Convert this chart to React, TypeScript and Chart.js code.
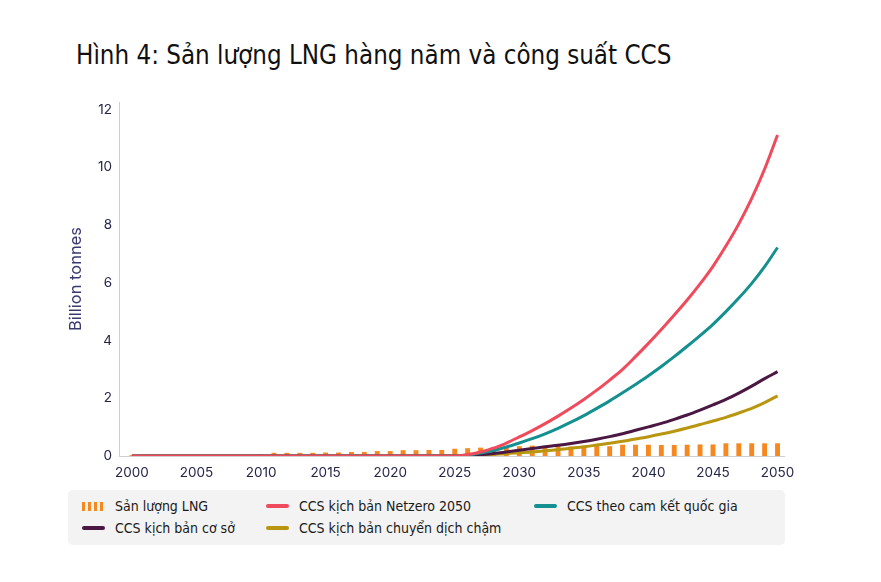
import React, { useEffect, useRef } from 'react';
import { Chart, registerables } from 'chart.js';

Chart.register(...registerables);

const years = [
  2000, 2001, 2002, 2003, 2004, 2005, 2006, 2007, 2008, 2009,
  2010, 2011, 2012, 2013, 2014, 2015, 2016, 2017, 2018, 2019,
  2020, 2021, 2022, 2023, 2024, 2025, 2026, 2027, 2028, 2029,
  2030, 2031, 2032, 2033, 2034, 2035, 2036, 2037, 2038, 2039,
  2040, 2041, 2042, 2043, 2044, 2045, 2046, 2047, 2048, 2049, 2050,
];

const xTickLabels = [2000, 2005, 2010, 2015, 2020, 2025, 2030, 2035, 2040, 2045, 2050];
const yTickLabels = [0, 2, 4, 6, 8, 10, 12];

const lngOutput = [
  0.03, 0.03, 0.03, 0.03, 0.04, 0.04, 0.04, 0.05, 0.05, 0.05,
  0.07, 0.11, 0.11, 0.11, 0.11, 0.12, 0.12, 0.14, 0.14, 0.17,
  0.17, 0.2, 0.2, 0.21, 0.21, 0.25, 0.27, 0.29, 0.3, 0.31,
  0.34, 0.36, 0.35, 0.35, 0.33, 0.34, 0.36, 0.34, 0.39, 0.39,
  0.39, 0.38, 0.38, 0.39, 0.4, 0.4, 0.44, 0.44, 0.44, 0.44, 0.44,
];

const ccsNetzero = [
  0, 0, 0, 0, 0, 0, 0, 0, 0, 0,
  0, 0, 0, 0, 0, 0, 0, 0, 0, 0,
  0, 0, 0, 0, 0, 0, 0.05, 0.14, 0.27, 0.45,
  0.66, 0.88, 1.12, 1.38, 1.66, 1.96, 2.28, 2.63, 3.0, 3.44,
  3.9, 4.38, 4.88, 5.4, 5.96, 6.57, 7.27, 8.04, 8.92, 9.94, 11.12,
];

const ccsNational = [
  0, 0, 0, 0, 0, 0, 0, 0, 0, 0,
  0, 0, 0, 0, 0, 0, 0, 0, 0, 0,
  0, 0, 0, 0, 0, 0, 0.03, 0.1, 0.19, 0.31,
  0.45, 0.6, 0.77, 0.96, 1.17, 1.4, 1.65, 1.91, 2.19, 2.48,
  2.78, 3.1, 3.44, 3.8, 4.17, 4.56, 5.0, 5.47, 5.98, 6.56, 7.22,
];

const ccsBase = [
  0, 0, 0, 0, 0, 0, 0, 0, 0, 0,
  0, 0, 0, 0, 0, 0, 0, 0, 0, 0,
  0, 0, 0, 0, 0, 0, 0.01, 0.04, 0.09, 0.14,
  0.2, 0.26, 0.32, 0.37, 0.43, 0.5, 0.58, 0.67, 0.77, 0.89,
  1.01, 1.13, 1.27, 1.42, 1.59, 1.77, 1.96, 2.18, 2.42, 2.68, 2.92,
];

const ccsSlow = [
  0, 0, 0, 0, 0, 0, 0, 0, 0, 0,
  0, 0, 0, 0, 0, 0, 0, 0, 0, 0,
  0, 0, 0, 0, 0, 0, 0.01, 0.03, 0.06, 0.08,
  0.11, 0.14, 0.18, 0.22, 0.27, 0.32, 0.38, 0.44, 0.51, 0.59,
  0.67, 0.76, 0.86, 0.97, 1.09, 1.21, 1.34, 1.49, 1.65, 1.85, 2.08,
];

const ORANGE = '#f5881f';
const RED = '#ef4b5c';
const TEAL = '#13908f';
const PURPLE = '#4a1843';
const OLIVE = '#b8960f';
const AXIS_TEXT = '#25254a';

const FONT = '"DejaVu Sans Condensed", "DejaVu Sans", sans-serif';

const pts = (vals: number[]) => years.map((x, i) => ({ x, y: vals[i] }));

function LineIcon({ color }: { color: string }) {
  return (
    <span
      style={{
        display: 'inline-block',
        width: 23,
        height: 4,
        borderRadius: 2,
        background: color,
      }}
    />
  );
}

function BarIcon() {
  return (
    <span style={{ display: 'inline-flex', gap: 3, alignItems: 'flex-end', width: 23 }}>
      {[0, 1, 2, 3].map((k) => (
        <span key={k} style={{ display: 'inline-block', width: 3, height: 9, background: ORANGE }} />
      ))}
    </span>
  );
}

function LegendItem({ x, y, icon, text }: { x: number; y: number; icon: React.ReactNode; text: string }) {
  return (
    <div
      style={{
        position: 'absolute',
        left: x,
        top: y - 9,
        height: 18,
        display: 'flex',
        alignItems: 'center',
        gap: 10,
        fontFamily: FONT,
        fontSize: 14,
        color: '#1a1a1a',
        whiteSpace: 'nowrap',
      }}
    >
      {icon}
      <span>{text}</span>
    </div>
  );
}

export default function App() {
  const canvasRef = useRef<HTMLCanvasElement | null>(null);

  useEffect(() => {
    if (!canvasRef.current) return;
    const lineDs = (label: string, vals: number[], color: string, order: number) => ({
      type: 'line',
      label,
      data: pts(vals),
      borderColor: color,
      backgroundColor: color,
      borderWidth: 3,
      pointRadius: 0,
      cubicInterpolationMode: 'monotone',
      order,
    });
    const chart = new Chart(canvasRef.current, {
      type: 'bar',
      data: {
        datasets: [
          lineDs('CCS kịch bản Netzero 2050', ccsNetzero, RED, 1),
          lineDs('CCS theo cam kết quốc gia', ccsNational, TEAL, 2),
          lineDs('CCS kịch bản cơ sở', ccsBase, PURPLE, 3),
          lineDs('CCS kịch bản chuyển dịch chậm', ccsSlow, OLIVE, 4),
          {
            type: 'bar',
            label: 'Sản lượng LNG',
            data: pts(lngOutput),
            backgroundColor: ORANGE,
            barPercentage: 0.38,
            categoryPercentage: 1,
            order: 10,
          },
        ],
      } as any,
      options: {
        animation: false,
        responsive: false,
        maintainAspectRatio: false,
        layout: { padding: { left: 0, right: 97, top: 102, bottom: 96 } },
        plugins: {
          legend: { display: false },
          tooltip: { enabled: false },
          title: { display: false },
        },
        scales: {
          x: {
            type: 'linear',
            offset: false,
            min: 1999,
            max: 2050.5,
            grid: { display: false, drawTicks: false, offset: false },
            border: { display: true, color: '#cfcfcf', width: 1 },
            ticks: {
              padding: 9,
              color: AXIS_TEXT,
              font: { family: 'Inter', size: 13.5 },
              maxRotation: 0,
              autoSkip: false,
              callback: (v: any) => String(v),
            },
            afterBuildTicks: (s: any) => {
              s.ticks = xTickLabels.map((v) => ({ value: v }));
            },
            afterFit: (s: any) => {
              s.height = 30;
            },
          },
          y: {
            min: 0,
            max: 12.26,
            grid: { display: false, drawTicks: false },
            border: { display: true, color: '#cfcfcf', width: 1 },
            ticks: {
              padding: 7,
              color: AXIS_TEXT,
              font: { family: 'Inter', size: 13.5 },
              autoSkip: false,
            },
            afterBuildTicks: (s: any) => {
              s.ticks = yTickLabels.map((v) => ({ value: v }));
            },
            afterFit: (s: any) => {
              s.width = 119;
            },
            title: {
              display: true,
              text: 'Billion tonnes',
              color: '#3a3a70',
              font: { family: 'Inter', size: 16.5 },
              padding: { top: 66, bottom: 0 },
            },
          },
        },
      } as any,
    });
    return () => chart.destroy();
  }, []);

  return (
    <div style={{ position: 'absolute', left: 0, top: 0, width: 881, height: 582, background: '#fff' }}>
      <div
        style={{
          position: 'absolute',
          left: 76,
          top: 40,
          fontFamily: FONT,
          fontSize: 25.7,
          lineHeight: '30px',
          color: '#111',
          whiteSpace: 'nowrap',
        }}
      >
        Hình 4: Sản lượng LNG hàng năm và công suất CCS
      </div>
      <canvas ref={canvasRef} width={881} height={582} style={{ position: 'absolute', left: 0, top: 0 }} />
      <div
        style={{
          position: 'absolute',
          left: 68,
          top: 490,
          width: 717,
          height: 55,
          background: '#f3f3f3',
          borderRadius: 5,
        }}
      />
      <LegendItem x={82} y={506} icon={<BarIcon />} text="Sản lượng LNG" />
      <LegendItem x={82} y={528} icon={<LineIcon color={PURPLE} />} text="CCS kịch bản cơ sở" />
      <LegendItem x={266} y={506} icon={<LineIcon color={RED} />} text="CCS kịch bản Netzero 2050" />
      <LegendItem x={266} y={528} icon={<LineIcon color={OLIVE} />} text="CCS kịch bản chuyển dịch chậm" />
      <LegendItem x={534} y={506} icon={<LineIcon color={TEAL} />} text="CCS theo cam kết quốc gia" />
    </div>
  );
}
